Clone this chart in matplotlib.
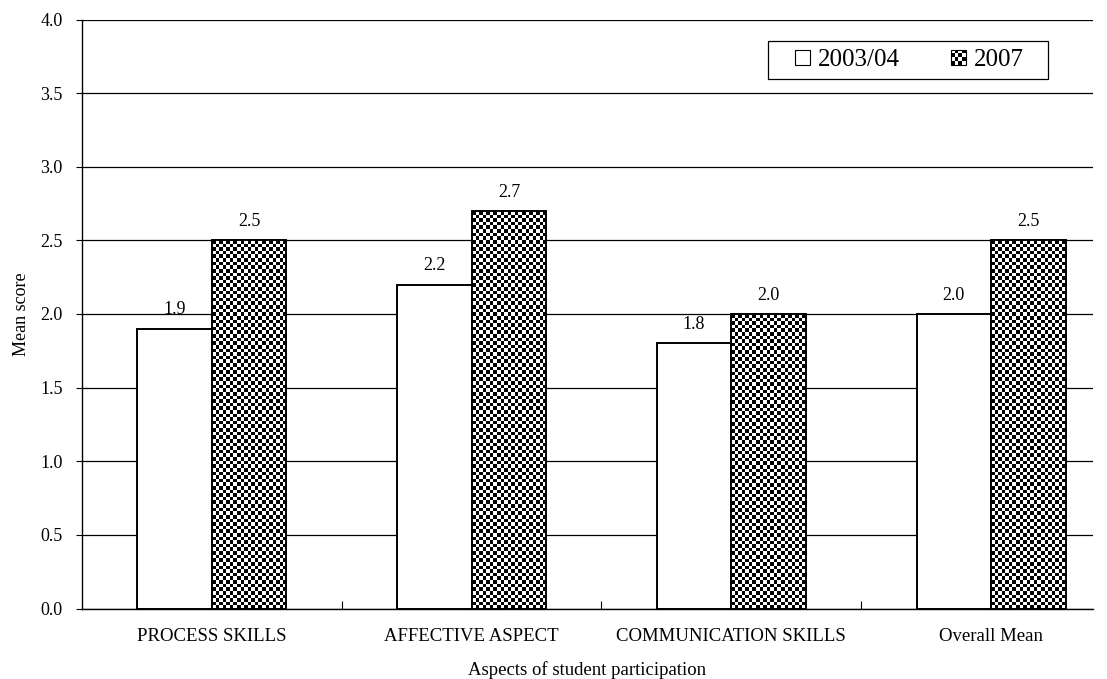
import numpy as np
import matplotlib.pyplot as plt
from matplotlib.patches import Rectangle
from matplotlib.legend_handler import HandlerBase

plt.rcParams['font.family'] = ['Liberation Serif', 'DejaVu Serif']

# mean scores per aspect
categories = ["PROCESS SKILLS", "AFFECTIVE ASPECT", "COMMUNICATION SKILLS", "Overall Mean"]
scores_2003 = [1.9, 2.2, 1.8, 2.0]
scores_2007 = [2.5, 2.7, 2.0, 2.5]
series_names = ["2003/04", "2007"]
yticks = [0.0, 0.5, 1.0, 1.5, 2.0, 2.5, 3.0, 3.5, 4.0]

BAR_W = 0.287     # width of one bar in category units
CELL_PX = 3.6     # checker cell size in pixels


class CheckerHandler(HandlerBase):
    '''legend handle drawn as a small black/white checker square'''
    def create_artists(self, legend, orig_handle, xdescent, ydescent,
                       width, height, fontsize, trans):
        side = height
        x0 = -xdescent + width - side
        y0 = -ydescent + (height - side) / 2
        n = 4
        c = side / n
        arts = [Rectangle((x0, y0), side, side, facecolor="white",
                          edgecolor="none", transform=trans)]
        for i in range(n):
            for j in range(n):
                if (i + j) % 2 == 0:
                    arts.append(Rectangle((x0 + i * c, y0 + j * c), c, c,
                                          facecolor="black", edgecolor="none",
                                          transform=trans))
        arts.append(Rectangle((x0, y0), side, side, facecolor="none",
                              edgecolor="black", lw=0.8, transform=trans))
        return arts


class SquareHandler(HandlerBase):
    '''plain white square handle'''
    def create_artists(self, legend, orig_handle, xdescent, ydescent,
                       width, height, fontsize, trans):
        side = height
        x0 = -xdescent + width - side
        y0 = -ydescent + (height - side) / 2
        return [Rectangle((x0, y0), side, side, facecolor="white",
                          edgecolor="black", lw=0.8, transform=trans)]


fig = plt.figure(figsize=(11.07, 6.79), dpi=100)
ax = fig.add_axes([82 / 1107, 1 - 608.5 / 679, (1093 - 82) / 1107, (608.5 - 19.5) / 679])

x = np.arange(len(categories))
XMAX = 3.5 - 28 / 260
ax.set_xlim(-0.5, XMAX)
ax.set_ylim(0, 4.0)

# gridlines
for yv in yticks:
    ax.axhline(yv, color="black", lw=0.9, zorder=1)

# plain bars for the first survey
ax.bar(x - BAR_W / 2, scores_2003, width=BAR_W, facecolor="white",
       edgecolor="black", lw=1.4, zorder=3)

# checker-filled bars for 2007: white base, checker image, then outline
bars07 = ax.bar(x + BAR_W / 2, scores_2007, width=BAR_W, facecolor="white",
                edgecolor="none", zorder=3)
for b in bars07:
    x0, y0 = b.get_x(), b.get_y()
    w, h = b.get_width(), b.get_height()
    p0 = ax.transData.transform((x0, y0))
    p1 = ax.transData.transform((x0 + w, y0 + h))
    nx = max(1, int(round((p1[0] - p0[0]) / CELL_PX)))
    ny = max(1, int(round((p1[1] - p0[1]) / CELL_PX)))
    board = (np.indices((ny, nx)).sum(axis=0) % 2).astype(float)
    ax.imshow(board, cmap="gray", vmin=0, vmax=1, extent=(x0, x0 + w, y0, y0 + h),
              interpolation="nearest", aspect="auto", zorder=3.5)
    ax.add_patch(Rectangle((x0, y0), w, h, facecolor="none", edgecolor="black",
                           lw=1.4, zorder=4))
ax.set_aspect("auto")
ax.set_xlim(-0.5, XMAX)
ax.set_ylim(0, 4.0)

# value labels
for xi, v in zip(x, scores_2003):
    ax.text(xi - BAR_W / 2, v + 0.07, "%.1f" % v, ha="center", va="bottom", fontsize=13)
for xi, v in zip(x, scores_2007):
    ax.text(xi + BAR_W / 2, v + 0.07, "%.1f" % v, ha="center", va="bottom", fontsize=13)

# axes styling
for s in ["top", "right"]:
    ax.spines[s].set_visible(False)
ax.spines["left"].set_linewidth(1.0)
ax.spines["bottom"].set_linewidth(1.0)
ax.set_yticks(yticks)
ax.set_yticklabels(["%.1f" % t for t in yticks], fontsize=13)
ax.tick_params(axis="y", direction="out", length=4, pad=10)
ax.set_xticks([0.5, 1.5, 2.5])
ax.set_xticklabels([])
ax.tick_params(axis="x", which="major", direction="in", length=6)
ax.set_xticks(x, minor=True)
ax.set_xticklabels(categories, minor=True, fontsize=13.5)
ax.tick_params(axis="x", which="minor", length=0, pad=14)

ax.set_ylabel("Mean score", fontsize=13, labelpad=7)
ax.set_xlabel("Aspects of student participation", fontsize=13.5, labelpad=12)

# legend frame drawn as a separate box behind the legend entries
frame = Rectangle((768 / 1107, 1 - 78.5 / 679), (1048 - 768) / 1107, 37.5 / 679,
                  transform=fig.transFigure, facecolor="white",
                  edgecolor="black", lw=0.9, zorder=9, clip_on=False)
ax.add_artist(frame)

h1 = Rectangle((0, 0), 1, 1)
h2 = Rectangle((0, 0), 1, 1)
leg = ax.legend([h1, h2], series_names, handler_map={h1: SquareHandler(), h2: CheckerHandler()},
                loc="center left", bbox_to_anchor=(796 / 1107, 1 - 60 / 679),
                bbox_transform=fig.transFigure, fontsize=18, frameon=False,
                ncol=2, handlelength=0.56, handleheight=0.56, handletextpad=0.3,
                columnspacing=2.1, borderpad=0, borderaxespad=0)
leg.set_zorder(10)

fig.savefig("out.png", dpi=100)
